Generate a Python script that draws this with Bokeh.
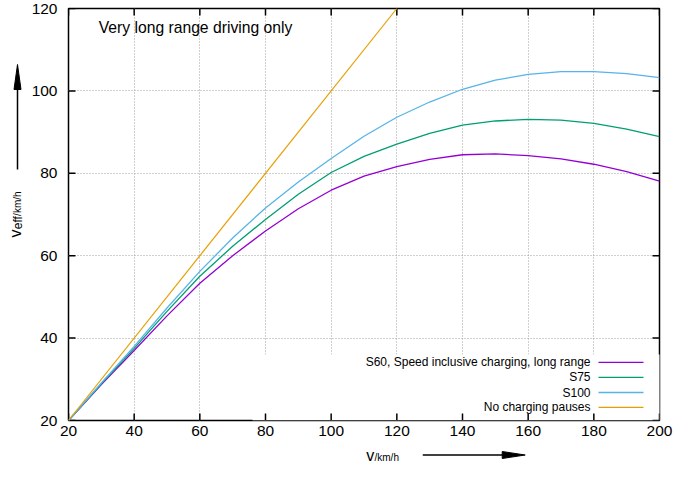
import math
from bokeh.plotting import figure
from bokeh.models import FixedTicker, Label, Arrow, BoxAnnotation, Range1d
from bokeh.layouts import row, column
from bokeh.embed import file_html
from bokeh.resources import INLINE

# ---- data ----
speed = [20, 30, 40, 50, 60, 70, 80, 90, 100, 110, 120, 130, 140, 150, 160, 170, 180, 190, 200]
s60 = [20, 28.7, 37.0, 45.4, 53.3, 60.0, 66.0, 71.4, 75.9, 79.3, 81.6, 83.4, 84.5, 84.7, 84.3, 83.5, 82.2, 80.4, 78.1]
s75 = [20, 28.9, 37.5, 46.5, 55.0, 62.3, 68.8, 74.9, 80.2, 84.1, 87.1, 89.7, 91.7, 92.7, 93.1, 92.9, 92.1, 90.7, 88.9]
s100 = [20, 29.1, 38.0, 47.3, 56.2, 64.3, 71.6, 77.9, 83.6, 89.0, 93.6, 97.3, 100.4, 102.6, 104.0, 104.7, 104.7, 104.2, 103.2]
nopause_v = [20, 120]
nopause_eff = [20, 120]

series_names = ["S60, Speed inclusive charging, long range", "S75", "S100", "No charging pauses"]
series_colors = ["#9400d3", "#009e73", "#56b4e9", "#e69f00"]

x_ticks = [20, 40, 60, 80, 100, 120, 140, 160, 180, 200]
y_ticks = [20, 40, 60, 80, 100, 120]

title_text = "Very long range driving only"

FONT = "Liberation Sans"

TOTAL_W, TOTAL_H = 674, 465
STRIP_W = 28
MAIN_W, MAIN_H = TOTAL_W - STRIP_W, 444

# ---------------- main plot ----------------
p = figure(width=MAIN_W, height=MAIN_H, x_range=Range1d(20, 200), y_range=Range1d(20, 120),
           output_backend="svg", toolbar_location=None,
           min_border_left=66 - STRIP_W, min_border_right=15, min_border_top=8, min_border_bottom=24,
           background_fill_color="white", border_fill_color="white",
           outline_line_color="black", outline_line_width=1.5)

for ax, t, so in ((p.xaxis[0], x_ticks, 5), (p.yaxis[0], y_ticks, 11)):
    ax.ticker = FixedTicker(ticks=t)
    ax.major_tick_in = 0
    ax.major_tick_out = 0
    ax.major_tick_line_color = None
    ax.minor_tick_line_color = None
    ax.axis_line_color = None
    ax.major_label_standoff = so
    ax.major_label_text_font = FONT
    ax.major_label_text_font_size = "15.5px"
    ax.major_label_text_color = "black"

for g, t in ((p.xgrid, x_ticks), (p.ygrid, y_ticks)):
    g.ticker = FixedTicker(ticks=t)
    g.grid_line_color = "#a0a0a0"
    g.grid_line_dash = "1 2"
    g.grid_line_width = 1

# opaque key box
p.add_layout(BoxAnnotation(left=184, right=593, bottom=0, top=66,
                           left_units="screen", right_units="screen",
                           bottom_units="screen", top_units="screen",
                           fill_color="white", fill_alpha=1, line_color=None,
                           level="underlay"))

# inward tick marks on all four sides (mirrored like the reference)
nx, ny = len(x_ticks), len(y_ticks)
tick_kw = dict(length=7, length_units="screen", angle_units="deg",
               line_color="black", line_width=1.5)
p.ray(x=x_ticks, y=[y_ticks[0]] * nx, angle=90, **tick_kw)
p.ray(x=x_ticks, y=[y_ticks[-1]] * nx, angle=-90, **tick_kw)
p.ray(x=[x_ticks[0]] * ny, y=y_ticks, angle=0, **tick_kw)
p.ray(x=[x_ticks[-1]] * ny, y=y_ticks, angle=180, **tick_kw)

# curves
p.line(speed, s60, line_color=series_colors[0], line_width=1.3)
p.line(speed, s75, line_color=series_colors[1], line_width=1.3)
p.line(speed, s100, line_color=series_colors[2], line_width=1.3)
p.line(nopause_v, nopause_eff, line_color=series_colors[3], line_width=1.2)

# key (text to the left of the sample line)
key_rows = [58.2, 43.1, 28.0, 13.1]
for name, col, ry in zip(series_names, series_colors, key_rows):
    p.add_layout(Label(x=522, y=ry, x_units="screen", y_units="screen", text=name,
                       text_align="right", text_baseline="middle",
                       text_font=FONT, text_font_size="12px", text_color="black"))
    p.add_layout(Arrow(start=None, end=None, x_start=530, y_start=ry, x_end=575, y_end=ry,
                       start_units="screen", end_units="screen",
                       line_color=col, line_width=1.3))

# title inside plot
p.add_layout(Label(x=29.2, y=115.3, text=title_text, text_baseline="middle",
                   text_font=FONT, text_font_size="15.7px", text_color="black"))


def strip(w, h, x_range=None):
    s = figure(width=w, height=h,
               x_range=x_range if x_range is not None else Range1d(0, w),
               y_range=Range1d(0, h),
               x_axis_location=None, y_axis_location=None,
               output_backend="svg", toolbar_location=None,
               min_border=0, min_border_left=0, min_border_right=0,
               min_border_top=0, min_border_bottom=0,
               background_fill_color="white", border_fill_color="white",
               outline_line_color=None)
    s.xgrid.visible = False
    s.ygrid.visible = False
    return s


# ---------------- x label strip (shares the x scale of the plot) ----------------
xs = strip(MAIN_W, TOTAL_H - MAIN_H, x_range=p.x_range)
xs.add_layout(Label(x=110.7, y=10.5, text="v", text_baseline="middle",
                    text_font=FONT, text_font_size="16px", text_color="black"))
xs.add_layout(Label(x=113.2, y=8.5, text="/km/h", text_baseline="middle",
                    text_font=FONT, text_font_size="10px", text_color="black"))
xs.line([127.9, 153.0], [10.5, 10.5], line_color="black", line_width=1.5)
xs.patch([159.1, 152.1, 152.1], [10.5, 14.0, 7.0], fill_color="black", line_color="black")

# ---------------- y label strip (rotated) ----------------
ys = strip(STRIP_W, TOTAL_H)
ys.add_layout(Label(x=15.4, y=228, text="v", angle=math.pi / 2, text_baseline="middle",
                    text_font=FONT, text_font_size="16px", text_color="black"))
ys.add_layout(Label(x=17.8, y=236.3, text="eff", angle=math.pi / 2, text_baseline="middle",
                    text_font=FONT, text_font_size="12px", text_color="black"))
ys.add_layout(Label(x=17.0, y=249.6, text="/km/h", angle=math.pi / 2, text_baseline="middle",
                    text_font=FONT, text_font_size="10px", text_color="black"))
ys.line([17, 17], [296, 378], line_color="black", line_width=1.5)
ys.patch([17, 13.5, 20.5], [401, 376, 376], fill_color="black", line_color="black")

layout = row(ys, column(p, xs, spacing=0), spacing=0)

open("out.html", "w").write(file_html(layout, INLINE))
